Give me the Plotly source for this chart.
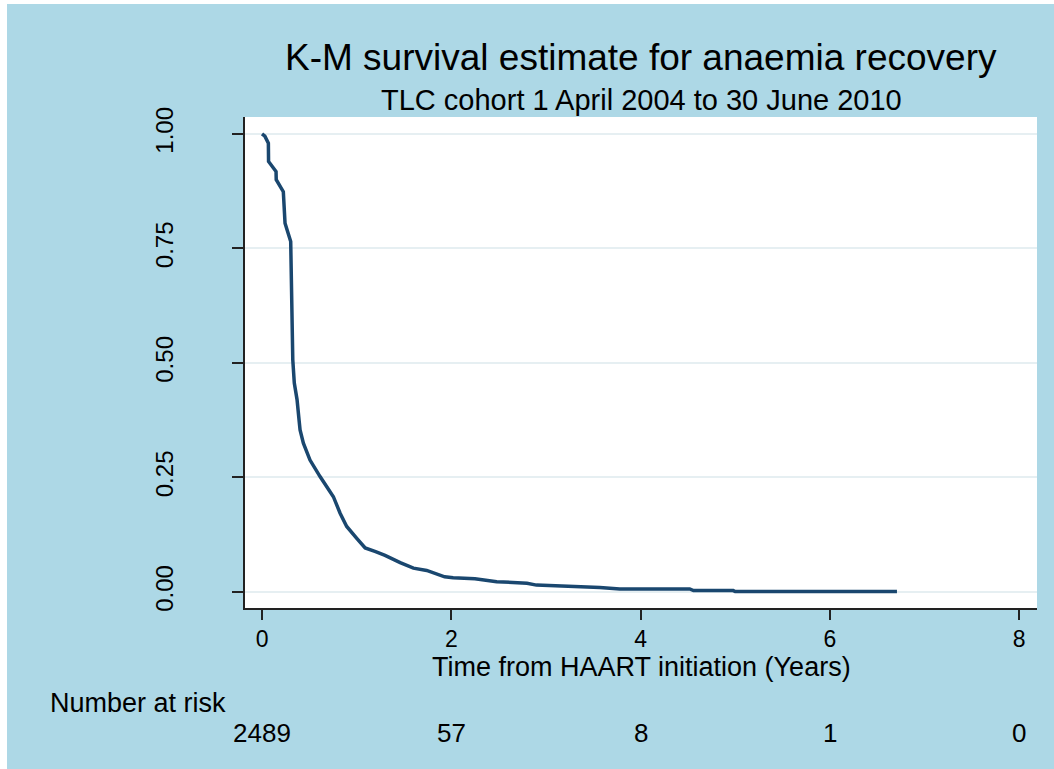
import plotly.graph_objects as go

# Kaplan-Meier estimate (time in years, survival)
time_years = [0.000, 0.030, 0.067, 0.069, 0.148, 0.150, 0.225, 0.243, 0.303, 0.307,
              0.310, 0.325, 0.341, 0.370, 0.394, 0.402, 0.437, 0.507, 0.613, 0.700,
              0.754, 0.825, 0.895, 1.001, 1.090, 1.200, 1.300, 1.460, 1.600, 1.740,
              1.930, 2.020, 2.250, 2.480, 2.800, 2.900, 3.570, 3.780, 4.520, 4.560,
              4.980, 5.000, 6.710]
survival = [1.000, 0.995, 0.980, 0.940, 0.918, 0.900, 0.874, 0.805, 0.765, 0.700,
            0.620, 0.507, 0.456, 0.420, 0.370, 0.354, 0.325, 0.288, 0.252, 0.223,
            0.208, 0.172, 0.143, 0.117, 0.096, 0.088, 0.080, 0.064, 0.052, 0.047,
            0.033, 0.031, 0.029, 0.0225, 0.019, 0.015, 0.010, 0.0065, 0.0065, 0.003,
            0.003, 0.001, 0.001]

x_ticks = [0, 2, 4, 6, 8]
y_ticks = [0.0, 0.25, 0.5, 0.75, 1.0]
y_ticklabels = ["0.00", "0.25", "0.50", "0.75", "1.00"]
risk_times = [0, 2, 4, 6, 8]
at_risk = [2489, 57, 8, 1, 0]

FONT = "Liberation Sans, Arial, sans-serif"
LIGHTBLUE = "#ADD8E6"
LINE = "#1A476F"

fig = go.Figure()
fig.add_trace(go.Scatter(x=time_years, y=survival, mode="lines",
                         line=dict(color=LINE, width=3.5), hoverinfo="skip"))

fig.update_layout(
    width=1054, height=769,
    margin=dict(l=245, r=17, t=117, b=161),
    paper_bgcolor=LIGHTBLUE, plot_bgcolor="white",
    showlegend=False,
    font=dict(family=FONT, color="black"),
)
fig.update_xaxes(range=[-0.18, 8.19], tickvals=x_ticks, ticks="outside", ticklen=10,
                 tickwidth=1.5, tickcolor="#222", showline=True, linecolor="#222",
                 linewidth=1.5, showgrid=False, zeroline=False,
                 tickfont=dict(size=23, family=FONT, color="black"))
fig.update_yaxes(range=[-0.035, 1.037], tickvals=y_ticks, ticktext=y_ticklabels,
                 ticks="outside", ticklen=11, tickwidth=1.5, tickcolor="#222",
                 showline=True, linecolor="#222", linewidth=1.5,
                 showgrid=True, gridcolor="#E6EFF2", gridwidth=2, zeroline=False,
                 tickangle=-90, ticklabelstandoff=50,
                 tickfont=dict(size=24, family=FONT, color="black"))

ann = []
ann.append(dict(text="K-M survival estimate for anaemia recovery", x=0.5, y=1.122,
                xref="paper", yref="paper", xanchor="center", yanchor="middle",
                showarrow=False, font=dict(size=37, family=FONT, color="black")))
ann.append(dict(text="TLC cohort 1 April 2004 to 30 June 2010", x=0.5, y=1.0346,
                xref="paper", yref="paper", xanchor="center", yanchor="middle",
                showarrow=False, font=dict(size=29, family=FONT, color="black")))
ann.append(dict(text="Time from HAART initiation (Years)", x=0.5, y=-0.12,
                xref="paper", yref="paper", xanchor="center", yanchor="middle",
                showarrow=False, font=dict(size=27, family=FONT, color="black")))
ann.append(dict(text="Number at risk", x=-0.2487, y=-0.1935,
                xref="paper", yref="paper", xanchor="left", yanchor="middle",
                showarrow=False, font=dict(size=27, family=FONT, color="black")))
for t, n in zip(risk_times, at_risk):
    ann.append(dict(text=str(n), x=t, y=-0.2546, xref="x", yref="paper",
                    xanchor="center", yanchor="middle", showarrow=False,
                    font=dict(size=26, family=FONT, color="black")))
fig.update_layout(annotations=ann)

# thin white strips at the left and top edges of the image
fig.add_shape(type="rect", xref="paper", yref="paper", x0=-0.32, x1=-0.3005,
              y0=-0.4, y1=1.3, fillcolor="white", line=dict(width=0), layer="above")
fig.add_shape(type="rect", xref="paper", yref="paper", x0=-0.32, x1=1.1,
              y0=1.2301, y1=1.3, fillcolor="white", line=dict(width=0), layer="above")

fig.write_html("out.html")
